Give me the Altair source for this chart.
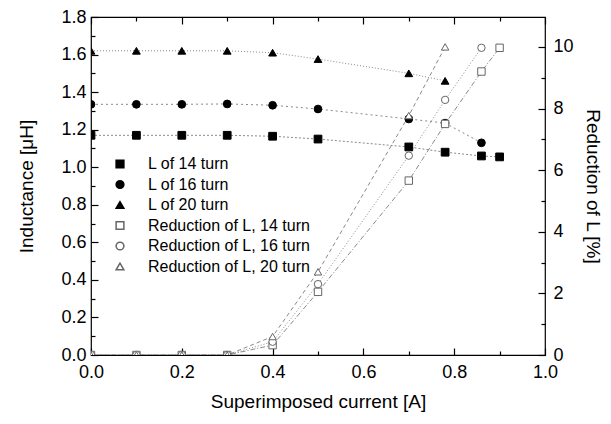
import altair as alt
import pandas as pd

# ---- data ----
x_L14 = [0.0, 0.1, 0.2, 0.3, 0.4, 0.5, 0.7, 0.78, 0.86, 0.9]
L14 = [1.17, 1.17, 1.17, 1.17, 1.165, 1.15, 1.108, 1.08, 1.06, 1.055]
x_L16 = [0.0, 0.1, 0.2, 0.3, 0.4, 0.5, 0.7, 0.78, 0.86]
L16 = [1.335, 1.335, 1.335, 1.337, 1.33, 1.31, 1.257, 1.235, 1.13]
x_L20 = [0.0, 0.1, 0.2, 0.3, 0.4, 0.5, 0.7, 0.78]
L20 = [1.62, 1.62, 1.62, 1.62, 1.61, 1.576, 1.50, 1.46]

x_R14 = [0.0, 0.1, 0.2, 0.3, 0.4, 0.5, 0.7, 0.78, 0.86, 0.9]
R14 = [0, 0, 0, 0, 0.32, 2.05, 5.66, 7.5, 9.2, 9.97]
x_R16 = [0.0, 0.1, 0.2, 0.3, 0.4, 0.5, 0.7, 0.78, 0.86]
R16 = [0, 0, 0, 0, 0.43, 2.3, 6.47, 8.28, 9.97]
x_R20 = [0.0, 0.1, 0.2, 0.3, 0.4, 0.5, 0.7, 0.78]
R20 = [0, 0, 0, 0, 0.6, 2.7, 7.77, 10.0]

series_names = ["L of 14 turn", "L of 16 turn", "L of 20 turn",
                "Reduction of L, 14 turn", "Reduction of L, 16 turn", "Reduction of L, 20 turn"]
series_dash = [[2, 2], [2, 3], [1, 2], [5, 2, 1, 2], [1, 2], [4, 3]]

x_major = [0.0, 0.2, 0.4, 0.6, 0.8, 1.0]
x_minor = [0.1, 0.3, 0.5, 0.7, 0.9]
yl_major = [0.0, 0.2, 0.4, 0.6, 0.8, 1.0, 1.2, 1.4, 1.6, 1.8]
yl_minor = [0.1, 0.3, 0.5, 0.7, 0.9, 1.1, 1.3, 1.5, 1.7]
yr_major = [0, 2, 4, 6, 8, 10]
yr_minor = [1, 3, 5, 7, 9]

# ---- tables ----
def frame(xs, ys, name):
    return pd.DataFrame({"x": xs, "v": ys, "series": name})

framesL = [frame(x_L14, L14, series_names[0]),
           frame(x_L16, L16, series_names[1]),
           frame(x_L20, L20, series_names[2])]
framesR = [frame(x_R14, R14, series_names[3]),
           frame(x_R16, R16, series_names[4]),
           frame(x_R20, R20, series_names[5])]
dfL = pd.concat(framesL)
dfR = pd.concat(framesR)

W, H = 454, 338
FONT = "Liberation Sans"
MAJ, MIN = 7, 4

xscale = alt.Scale(domain=[0, 1.0], nice=False)
ylscale = alt.Scale(domain=[0, 1.8], nice=False)
yrscale = alt.Scale(domain=[0, 10.97], nice=False)

# labelled axes (no ticks)
x_lab = alt.Axis(values=x_major, format=".1f", title="Superimposed current [A]",
                 ticks=False, domain=False, grid=False, labelFlush=False,
                 labelPadding=8, titlePadding=11, orient="bottom")
yl_lab = alt.Axis(values=yl_major, format=".1f", title="Inductance [μH]",
                  ticks=False, domain=False, grid=False, labelFlush=False,
                  labelPadding=5, titlePadding=24, orient="left")
yr_lab = alt.Axis(values=yr_major, format="d", title="Reduction of L [%]",
                  ticks=False, domain=False, grid=False, labelFlush=False,
                  labelPadding=8, titlePadding=9, orient="right")

# tick-only axes pulled inside the frame so that the ticks point inward
def tick_axis(vals, orient, size):
    return alt.Axis(values=vals, orient=orient, offset=-size, tickSize=size, ticks=True,
                    tickColor="black", tickWidth=1.2, labels=False, domain=False,
                    grid=False, title=None)

shape_scale = alt.Scale(domain=series_names,
                        range=["square", "circle", "triangle-up", "square", "circle", "triangle-up"])
fill_scale = alt.Scale(domain=series_names,
                       range=["black", "black", "black", "white", "white", "white"])
stroke_scale = alt.Scale(domain=series_names,
                         range=["black", "black", "black", "#666666", "#666666", "#666666"])

legend = alt.Legend(title=None, orient="none", legendX=21, legendY=139,
                    labelFont=FONT, labelFontSize=16, labelColor="black", labelLimit=400,
                    symbolSize=60, labelOffset=20, rowPadding=4.5)

# axis assignment per line layer: (x axis, y axis)
axes_L = [
    (x_lab, yl_lab),
    (tick_axis(x_major, "bottom", MAJ), tick_axis(yl_major, "left", MAJ)),
    (tick_axis(x_minor, "bottom", MIN), tick_axis(yl_minor, "left", MIN)),
]
axes_R = [
    (tick_axis(x_major, "top", MAJ), yr_lab),
    (tick_axis(x_minor, "top", MIN), tick_axis(yr_major, "right", MAJ)),
    (None, tick_axis(yr_minor, "right", MIN)),
]

layers = []
for i, df in enumerate(framesL):
    ax, ay = axes_L[i]
    layers.append(alt.Chart(df).mark_line(color="#8a8a8a", strokeWidth=1,
                                          strokeDash=series_dash[i], clip=True).encode(
        x=alt.X("x:Q", scale=xscale, axis=ax),
        y=alt.Y("v:Q", scale=ylscale, axis=ay)))
for i, df in enumerate(framesR):
    ax, ay = axes_R[i]
    layers.append(alt.Chart(df).mark_line(color="#8a8a8a", strokeWidth=1,
                                          strokeDash=series_dash[3 + i], clip=True).encode(
        x=alt.X("x:Q", scale=xscale, axis=ax),
        y=alt.Y("v:Q", scale=yrscale, axis=ay)))

pointsL = alt.Chart(dfL).mark_point(filled=True, size=60, strokeWidth=1, opacity=1, clip=True).encode(
    x=alt.X("x:Q", scale=xscale, axis=None), y=alt.Y("v:Q", scale=ylscale, axis=None),
    shape=alt.Shape("series:N", scale=shape_scale, legend=legend),
    fill=alt.Fill("series:N", scale=fill_scale, legend=legend),
    stroke=alt.Stroke("series:N", scale=stroke_scale, legend=legend))
pointsR = alt.Chart(dfR).mark_point(filled=True, size=55, strokeWidth=1, opacity=1, clip=True).encode(
    x=alt.X("x:Q", scale=xscale, axis=None), y=alt.Y("v:Q", scale=yrscale, axis=None),
    shape=alt.Shape("series:N", scale=shape_scale, legend=legend),
    fill=alt.Fill("series:N", scale=fill_scale, legend=legend),
    stroke=alt.Stroke("series:N", scale=stroke_scale, legend=legend))
layers += [pointsL, pointsR]

chart = alt.layer(*layers).resolve_scale(
    x="independent", y="independent"
).properties(
    width=W, height=H,
    autosize=alt.AutoSizeParams(type="none"),
    padding={"left": 83, "top": 9, "right": 58, "bottom": 61},
    background="white",
).configure_view(
    stroke="black", strokeWidth=1.2
).configure_axis(
    labelFont=FONT, titleFont=FONT, labelFontSize=18, titleFontSize=19,
    labelColor="black", titleColor="black", titleFontWeight="normal"
)

chart.save("out.html", embed_options={"renderer": "svg", "actions": False})
